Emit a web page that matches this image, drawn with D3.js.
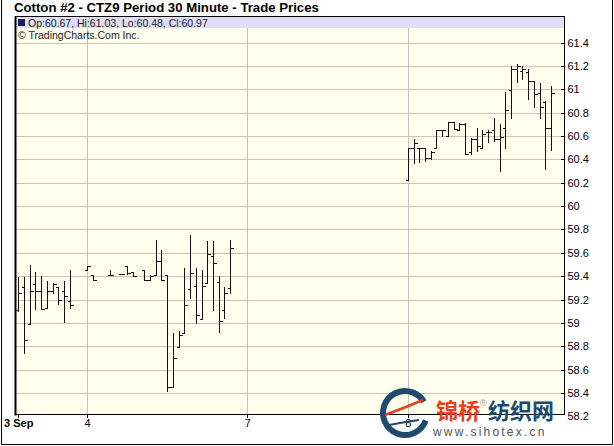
<!DOCTYPE html>
<html><head><meta charset="utf-8">
<script src="https://cdn.jsdelivr.net/npm/d3@7/dist/d3.min.js"></script>
<style>html,body{margin:0;padding:0;background:#fff;}svg{display:block;}</style>
</head><body>
<svg id="c" width="614" height="446"></svg>
<script>
// ---- data ----
const slots  = [0,1,2,3,4,5,6,7,8,9, 12,13,16,18,19,20,22,23,24,25,26,27,28,29,30,31,32,33,34,35,36,37,
                68,69,70,71,72,73,74,75,76,77,78,79,80,81,82,83,84,85,86,87,88,89,90,91,92,93];
const opens  = [59.11,59.31,58.99,59.33,59.27,59.13,59.27,59.31,59.27,59.19,
                59.45,59.41,59.41,59.42,59.49,59.44,59.45,59.37,59.41,59.53,59.41,58.45,58.79,58.91,59.29,59.32,59.03,59.34,59.57,59.35,59.11,59.30,
                60.22,60.50,60.50,60.50,60.41,60.50,60.65,60.60,60.72,60.65,60.70,60.46,60.57,60.50,60.63,60.65,60.57,60.67,60.99,61.17,61.16,61.15,61.07,60.97,60.89,60.67];
const highs  = [59.39,59.39,59.50,59.44,59.40,59.36,59.34,59.31,59.36,59.45,
                59.49,59.41,59.45,59.42,59.49,59.44,59.45,59.41,59.71,59.62,59.41,58.91,58.93,59.47,59.75,59.47,59.45,59.70,59.70,59.40,59.31,59.71,
                60.50,60.57,60.50,60.50,60.47,60.65,60.65,60.72,60.72,60.71,60.71,60.58,60.67,60.65,60.65,60.75,60.70,60.98,61.20,61.22,61.20,61.17,61.07,61.05,60.90,61.03];
const lows   = [59.10,58.74,58.99,59.12,59.12,59.13,59.26,59.16,59.01,59.13,
                59.45,59.37,59.41,59.42,59.42,59.40,59.37,59.37,59.41,59.37,58.42,58.45,58.79,58.91,59.21,59.00,59.03,59.34,59.11,58.92,59.04,59.26,
                60.22,60.37,60.38,60.39,60.40,60.50,60.60,60.60,60.66,60.65,60.45,60.45,60.47,60.50,60.55,60.56,60.30,60.50,60.75,61.06,61.09,60.92,60.85,60.75,60.32,60.48];
const closes = [59.26,58.85,59.27,59.27,59.12,59.27,59.33,59.20,59.23,59.15,
                59.49,59.37,59.41,59.42,59.43,59.40,59.37,59.40,59.53,59.37,58.45,58.70,58.90,59.15,59.43,59.07,59.32,59.59,59.51,59.02,59.26,59.64,
                60.50,60.54,60.50,60.41,60.46,60.65,60.65,60.72,60.66,60.70,60.45,60.57,60.51,60.62,60.63,60.57,60.59,60.82,61.17,61.20,61.17,61.07,60.96,60.85,60.67,60.97];
const daySlots  = [0, 12, 40, 68];
const dayLabels = ["3 Sep", "4", "7", "8"];
const yTicks = [58.2,58.4,58.6,58.8,59,59.2,59.4,59.6,59.8,60,60.2,60.4,60.6,60.8,61,61.2,61.4];
const title = "Cotton #2 - CTZ9 Period 30 Minute - Trade Prices";
const legendText = "Op:60.67, Hi:61.03, Lo:60.48, Cl:60.97";
const credit = "\u00A9 TradingCharts.Com Inc.";

// ---- layout ----
const svg = d3.select("#c");
const P = {l:15.5, t:16.5, r:564.5, b:414.5};
const x = d3.scaleLinear().domain([0, 93]).range([18.2, 551.1]);
const y = d3.scaleLinear().domain([58.2, 61.4]).range([416.4, 42.5]);
const font = "Arial, 'Liberation Sans', sans-serif";

svg.append("rect").attr("x",0).attr("y",0).attr("width",614).attr("height",446).attr("fill","#fff");
// outer frame
svg.append("path").attr("d","M1.5,0V444.5H612.5V0").attr("fill","none").attr("stroke","#000");

// title
svg.append("text").attr("x",14).attr("y",12).attr("font-family",font).attr("font-weight","bold")
  .attr("font-size",13.2).attr("fill","#000").text(title);

// plot background
svg.append("rect").attr("x",P.l).attr("y",P.t).attr("width",P.r-P.l).attr("height",P.b-P.t).attr("fill","#ffffee");

const g = svg.append("g").attr("shape-rendering","crispEdges");
// horizontal gridlines
g.selectAll("line.hg").data(yTicks.filter(v => y(v) < P.b && y(v) > P.t)).join("line")
  .attr("x1",P.l).attr("x2",P.r).attr("y1",d=>Math.round(y(d))+0.5).attr("y2",d=>Math.round(y(d))+0.5)
  .attr("stroke","#c4c4bc");
// vertical gridlines
g.selectAll("line.vg").data(daySlots.slice(1)).join("line")
  .attr("x1",d=>Math.round(x(d))+0.5).attr("x2",d=>Math.round(x(d))+0.5).attr("y1",P.t).attr("y2",P.b)
  .attr("stroke","#c4c4bc");

// legend band
svg.append("rect").attr("x",P.l).attr("y",P.t).attr("width",P.r-P.l).attr("height",11.5).attr("fill","#dedef4");
svg.append("rect").attr("x",18).attr("y",19).attr("width",7).attr("height",7).attr("fill","#1c1c5c");
svg.append("text").attr("x",28).attr("y",26.5).attr("font-family",font).attr("font-size",10.5).attr("fill","#222").text(legendText);
svg.append("text").attr("x",18).attr("y",38.5).attr("font-family",font).attr("font-size",10.5).attr("fill","#222").text(credit);

// OHLC bars
const bars = slots.map((s,i)=>({s, o:opens[i], h:highs[i], l:lows[i], c:closes[i]}));
const bg = svg.append("g").attr("shape-rendering","crispEdges").attr("stroke","#111").attr("fill","none");
bars.forEach(d=>{
  const px = Math.round(x(d.s))+0.5;
  const yh = Math.round(y(d.h)), yl = Math.round(y(d.l));
  const yo = Math.round(y(d.o))+0.5, yc = Math.round(y(d.c))+0.5;
  bg.append("line").attr("x1",px).attr("x2",px).attr("y1",yh).attr("y2",Math.max(yl+1, yh+1));
  bg.append("line").attr("x1",px-3).attr("x2",px).attr("y1",yo).attr("y2",yo);
  bg.append("line").attr("x1",px).attr("x2",px+3).attr("y1",yc).attr("y2",yc);
});

// frame of plot
svg.append("rect").attr("x",P.l).attr("y",P.t).attr("width",P.r-P.l).attr("height",P.b-P.t)
  .attr("fill","none").attr("stroke","#000").attr("shape-rendering","crispEdges");
svg.append("line").attr("x1",P.l).attr("x2",P.l).attr("y1",P.t).attr("y2",P.b+1).attr("stroke","#000").attr("stroke-width",2);

// right axis
const ya = svg.append("g").attr("transform",`translate(${P.r},0)`)
  .call(d3.axisRight(y).tickValues(yTicks).tickSizeInner(-4).tickSizeOuter(0).tickPadding(3).tickFormat(d3.format("")));
ya.select(".domain").remove();
ya.selectAll(".tick line").attr("stroke","#000").attr("shape-rendering","crispEdges")
  .attr("display",d=> y(d) > P.b ? "none" : null);
ya.selectAll(".tick text").attr("font-family",font).attr("font-size",11).attr("fill","#000");

// bottom axis
const xa = svg.append("g").attr("transform",`translate(0,${P.b})`)
  .call(d3.axisBottom(x).tickValues(daySlots).tickFormat((d,i)=>dayLabels[i]).tickSizeInner(3).tickSizeOuter(0).tickPadding(2));
xa.select(".domain").remove();
xa.selectAll(".tick line").attr("stroke","#000").attr("shape-rendering","crispEdges");
xa.selectAll(".tick text").attr("font-family",font).attr("font-size",11).attr("fill","#000")
  .attr("font-weight",(d,i)=> i===0 ? "bold" : "normal");

// watermark (source site)
const wm = svg.append("g");
wm.append("circle").attr("cx",405).attr("cy",413).attr("r",22).attr("fill","none").attr("stroke","#1d4a6e").attr("stroke-width",6)
  .attr("stroke-dasharray","118 20").attr("transform","rotate(20,405,413)");
wm.append("path").attr("d","M385,415 Q404,408 423,400").attr("fill","none").attr("stroke","#e8401c").attr("stroke-width",2.5);
wm.append("path").attr("d","M389,425 Q404,422 419,420").attr("fill","none").attr("stroke","#1d4a6e").attr("stroke-width",2);
wm.append("text").attr("x",436).attr("y",419).attr("font-family","'Noto Sans CJK SC', sans-serif").attr("font-weight","bold")
  .attr("font-size",22).attr("fill","#e8401c").text("锦桥");
wm.append("text").attr("x",480).attr("y",406).attr("font-family",font).attr("font-size",9).attr("fill","#999").text("®");
wm.append("text").attr("x",488).attr("y",419).attr("font-family","'Noto Sans CJK SC', sans-serif").attr("font-weight","bold")
  .attr("font-size",22).attr("fill","#1d4a6e").text("纺织网");
wm.append("text").attr("x",433).attr("y",436).attr("font-family",font).attr("font-size",12).attr("letter-spacing",2.2)
  .attr("fill","#555").text("www.sihotex.cn");
</script>
</body></html>
